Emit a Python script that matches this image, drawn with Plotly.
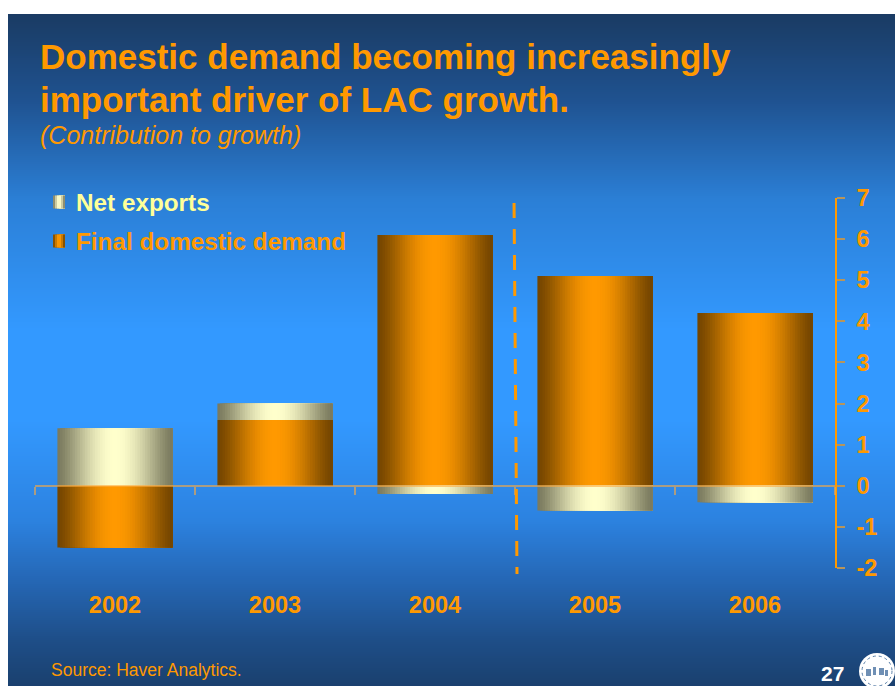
import math
import plotly.graph_objects as go

# ---- data -------------------------------------------------------------
years = ["2002", "2003", "2004", "2005", "2006"]
final_domestic_demand = [-1.5, 1.6, 6.1, 5.1, 4.2]
net_exports = [1.4, 0.4, -0.2, -0.6, -0.4]
y_ticks = [-2, -1, 0, 1, 2, 3, 4, 5, 6, 7]

# ---- canvas geometry --------------------------------------------------
W, H = 895, 686
M_L, M_R, M_T, M_B = 35, 60, 198, 118
PLOT_W = W - M_L - M_R
PLOT_H = H - M_T - M_B


def px_x(px):
    return (px - M_L) / PLOT_W


def px_y(py):
    return (H - M_B - py) / PLOT_H


def hex_rgb(h):
    h = h.lstrip("#")
    return tuple(int(h[i:i + 2], 16) for i in (0, 2, 4))


def mix(c1, c2, t):
    return "rgb(%d,%d,%d)" % tuple(round(a + (b - a) * t) for a, b in zip(c1, c2))


ORANGE = "#ff9900"
FONT = "Liberation Sans, Arial, sans-serif"

# cylinder-style shading across each bar
FDD_DARK, FDD_LIGHT = hex_rgb("#734500"), hex_rgb("#ff9900")
NX_DARK, NX_LIGHT = hex_rgb("#7a7a5e"), hex_rgb("#ffffcc")


def shade(t):
    return math.sin(math.pi * t) ** 1.4


fig = go.Figure()

# relative stacking bases (positive and negative stacks kept apart)
pos = [0.0] * len(years)
neg = [0.0] * len(years)


def stack(values):
    bases = []
    for i, v in enumerate(values):
        if v >= 0:
            bases.append(pos[i])
            pos[i] += v
        else:
            bases.append(neg[i])
            neg[i] += v
    return bases


x_idx = list(range(len(years)))
BAR_W = 0.72
N_SLICES = 46

for name, values, dark, light in [
    ("Final domestic demand", final_domestic_demand, FDD_DARK, FDD_LIGHT),
    ("Net exports", net_exports, NX_DARK, NX_LIGHT),
]:
    bases = stack(values)
    for k in range(N_SLICES):
        t = (k + 0.5) / N_SLICES
        off = -BAR_W / 2 + k * BAR_W / N_SLICES
        fig.add_trace(go.Bar(
            x=x_idx, y=values, base=bases,
            offset=off, width=BAR_W - k * BAR_W / N_SLICES,
            marker=dict(color=mix(dark, light, shade(t)), line=dict(width=0)),
            name=name, showlegend=False, hoverinfo="skip",
        ))

# ---- background: vertical blue gradient -------------------------------
bg_stops = [
    (14, "#1a3b63"), (100, "#1f5290"), (200, "#2b7fd6"), (330, "#3399ff"),
    (420, "#3399ff"), (520, "#2c82e0"), (580, "#2567b5"), (640, "#1e4e88"),
    (686, "#1a406e"),
]
shapes = []
STEP = 2
for py in range(14, H, STEP):
    for (y0, c0), (y1, c1) in zip(bg_stops, bg_stops[1:]):
        if y0 <= py + STEP / 2 <= y1:
            col = mix(hex_rgb(c0), hex_rgb(c1), (py + STEP / 2 - y0) / (y1 - y0))
            break
    shapes.append(dict(
        type="rect", xref="paper", yref="paper", layer="below",
        x0=px_x(8), x1=px_x(W + 2), y0=px_y(min(py + STEP + 1, H + 1)), y1=px_y(py),
        fillcolor=col, line=dict(width=0),
    ))

# divider between actual years and the later ones
shapes.append(dict(
    type="line", xref="x", yref="paper",
    x0=2.494, x1=2.5125, y0=px_y(203), y1=px_y(574),
    line=dict(color=ORANGE, width=3, dash="15px,11px"), layer="above",
))

# legend swatches
for (cy, dark, light) in [(202, NX_DARK, NX_LIGHT), (241, FDD_DARK, FDD_LIGHT)]:
    n = 6
    for k in range(n):
        t = (k + 0.5) / n
        shapes.append(dict(
            type="rect", xref="paper", yref="paper", layer="above",
            x0=px_x(53 + k * 2), x1=px_x(65), y0=px_y(cy + 6.5), y1=px_y(cy - 6.5),
            fillcolor=mix(dark, light, shade(t)), line=dict(width=0),
        ))

# seal in the footer corner
shapes.append(dict(
    type="circle", xref="paper", yref="paper", layer="above",
    x0=px_x(859), x1=px_x(895), y0=px_y(689), y1=px_y(653),
    fillcolor="white", line=dict(width=0),
))
shapes.append(dict(
    type="circle", xref="paper", yref="paper", layer="above",
    x0=px_x(862), x1=px_x(892), y0=px_y(686), y1=px_y(656),
    fillcolor="white", line=dict(color="#5a7fa8", width=1, dash="dot"),
))
for (ax, ay, bx, by) in [(866, 669, 871, 676), (873, 667, 876, 675),
                         (879, 668, 884, 675), (885, 670, 888, 676)]:
    shapes.append(dict(
        type="rect", xref="paper", yref="paper", layer="above",
        x0=px_x(ax), x1=px_x(bx), y0=px_y(by), y1=px_y(ay),
        fillcolor="#6f8fb4", line=dict(width=0),
    ))

# ---- text ---------------------------------------------------------------
ann = []


def text(s, px, py, size, color, bold=False, italic=False, xanchor="left"):
    if bold:
        s = "<b>%s</b>" % s
    if italic:
        s = "<i>%s</i>" % s
    ann.append(dict(
        text=s, xref="paper", yref="paper", x=px_x(px), y=px_y(py),
        xanchor=xanchor, yanchor="middle", showarrow=False,
        font=dict(family=FONT, size=size, color=color),
    ))


text("Domestic demand becoming increasingly", 38, 57, 35, ORANGE, bold=True)
text("important driver of LAC growth.", 38, 99, 35, ORANGE, bold=True)
text("(Contribution to growth)", 38, 135, 25, ORANGE, italic=True)
text("Net exports", 74, 202, 24.3, "#ffff99", bold=True)
text("Final domestic demand", 74, 241, 24.3, ORANGE, bold=True)
text("Source: Haver Analytics.", 49, 670, 17.5, ORANGE)
text("27", 846, 673, 21, "white", bold=True, xanchor="right")

fig.update_layout(
    width=W, height=H, autosize=False,
    margin=dict(l=M_L, r=M_R, t=M_T, b=M_B, pad=0),
    paper_bgcolor="white", plot_bgcolor="rgba(0,0,0,0)",
    barmode="overlay", showlegend=False,
    shapes=shapes, annotations=ann,
    xaxis=dict(
        range=[-0.5, len(years) - 0.5], tickvals=x_idx, ticktext=years,
        showgrid=False, zeroline=False, showline=False, ticks="",
        tickfont=dict(family=FONT, size=23.5, color=ORANGE, weight="bold"),
        ticklabelstandoff=20,
    ),
    # zero line with category boundary ticks
    xaxis2=dict(
        overlaying="x", matches="x", anchor="free",
        position=(0 - y_ticks[0]) / (y_ticks[-1] - y_ticks[0]),
        range=[-0.5, len(years) - 0.5],
        tickvals=[i - 0.5 for i in range(len(years) + 1)],
        showticklabels=False, showgrid=False, zeroline=False,
        showline=True, linecolor="rgba(255,170,60,0.6)", linewidth=2,
        ticks="outside", ticklen=8, tickwidth=1.5, tickcolor="rgba(255,170,60,0.6)",
        layer="above traces",
    ),
    yaxis=dict(
        side="right", range=[y_ticks[0], y_ticks[-1]], tickvals=y_ticks,
        ticktext=[str(v) for v in y_ticks],
        showgrid=False, zeroline=False,
        showline=True, linecolor=ORANGE, linewidth=1.5,
        ticks="outside", ticklen=8, tickwidth=1.5, tickcolor="#b8955a",
        tickfont=dict(family=FONT, size=23.5, color=ORANGE, weight="bold"),
        ticklabelstandoff=7,
    ),
)

# invisible trace so the boundary-tick axis is drawn
fig.add_trace(go.Scatter(x=[0], y=[0], xaxis="x2", mode="markers",
                         marker=dict(opacity=0), showlegend=False, hoverinfo="skip"))

fig.write_html("out.html")
